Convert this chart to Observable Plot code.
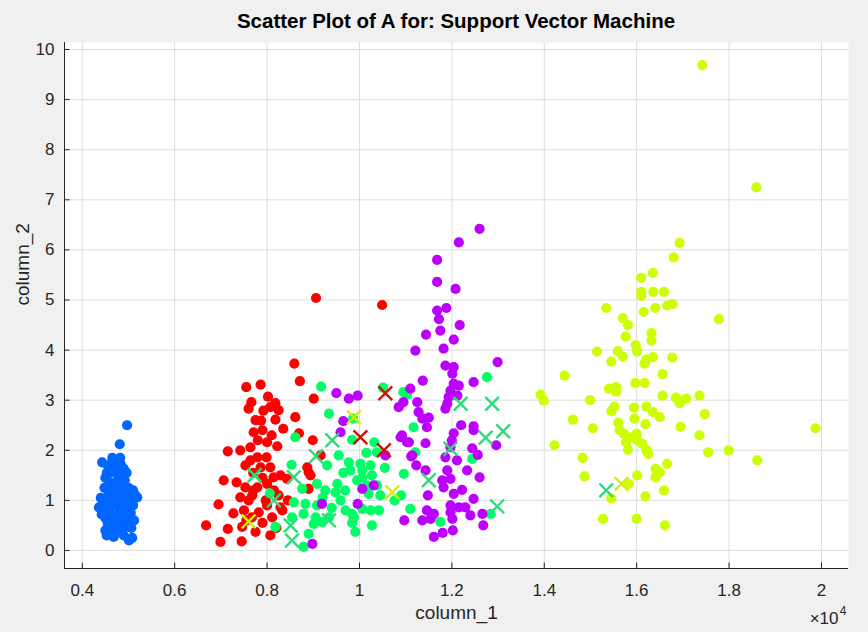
<!DOCTYPE html>
<html><head><meta charset="utf-8">
<script src="https://cdn.jsdelivr.net/npm/d3@7"></script>
<script src="https://cdn.jsdelivr.net/npm/@observablehq/plot@0.6"></script>
<style>
html,body{margin:0;padding:0;background:#f0f0f0;}
body{width:868px;height:632px;overflow:hidden;font-family:"Liberation Sans",Arial,Helvetica,sans-serif;}
#title{height:36px;line-height:42px;text-align:center;padding-left:44px;font-weight:bold;font-size:20.5px;color:#000;white-space:nowrap;}
#chart svg{display:block;}
</style></head><body>
<div id="title">Scatter Plot of A for: Support Vector Machine</div>
<div id="chart"></div>
<script>
const xTicks = [4000,6000,8000,10000,12000,14000,16000,18000,20000];
const xTickLabels = ["0.4","0.6","0.8","1","1.2","1.4","1.6","1.8","2"];
const yTicks = [0,1,2,3,4,5,6,7,8,9,10];
const xLabel = "column_1";
const yLabel = "column_2";

const blue = [[4970,2.50],[4810,2.12],[4430,1.76],[4650,1.85],[4830,1.73],[4900,1.63],[4550,1.70],[4600,1.55],[4720,1.60],[4780,1.45],[4500,1.45],[4620,1.35],[4700,1.30],[4850,1.35],[4920,1.40],[4560,1.20],[4800,1.20],[5000,1.25],[5100,1.20],[5150,1.10],[5190,1.06],[5050,1.10],[4900,1.05],[4700,1.05],[4550,1.00],[4450,0.95],[4360,0.86],[4480,0.80],[4600,0.85],[4750,0.90],[4850,0.95],[5000,0.95],[5100,0.90],[4950,0.80],[4800,0.75],[4650,0.70],[4500,0.65],[4420,0.72],[4550,0.55],[4700,0.55],[4850,0.60],[5000,0.65],[5120,0.60],[4950,0.50],[4800,0.45],[4620,0.42],[4500,0.40],[4680,0.32],[4900,0.30],[5010,0.20],[4680,0.27],[5080,0.25],[4580,1.10],[4740,1.15],[4880,1.15],[4640,0.95],[4980,1.00],[4530,1.55],[4690,1.75],[4870,1.50],[4760,1.00],[4650,0.60],[4770,0.65],[4920,0.70],[5050,0.75],[4580,0.80],[4700,0.40],[4860,0.40],[4530,0.30],[4820,1.85],[4620,1.65],[4960,1.55],[4400,1.05],[4480,1.25],[5060,0.45]];

const red = [[8590,3.73],[7550,3.26],[7860,3.31],[8710,3.38],[8020,3.07],[8180,2.94],[7660,2.96],[7600,2.83],[7920,2.79],[8070,2.86],[7870,2.59],[8180,2.61],[8350,2.43],[8610,2.66],[9010,3.03],[7710,2.36],[8000,2.16],[8220,2.08],[8690,2.34],[8990,2.20],[7150,1.98],[7420,2.00],[7640,2.06],[7790,1.86],[7990,1.86],[7530,1.70],[8070,1.66],[7860,1.66],[7640,1.80],[7060,1.40],[7340,1.36],[8140,1.46],[8290,1.50],[7530,1.26],[7790,1.26],[8000,1.33],[7420,1.06],[7680,1.10],[7970,1.00],[8290,0.86],[6950,0.92],[7270,0.74],[7500,0.80],[7820,0.76],[8110,0.66],[6680,0.50],[7150,0.43],[7460,0.47],[7750,0.37],[8070,0.30],[6990,0.17],[7450,0.18],[7670,0.66],[8870,1.66],[8940,1.50],[9060,5.04],[10490,4.90],[9160,1.90],[8900,1.56],[8430,1.43],[8900,1.23],[8330,0.80],[7800,2.20],[7900,2.40],[7700,1.55],[7900,1.45],[8150,1.20],[8250,1.10],[7600,1.00],[7900,0.55],[8200,0.45],[8450,1.00],[8100,2.30],[7750,2.60],[8250,2.80],[7700,1.20],[8000,0.90],[7550,0.60]];

const yellow = [[17420,9.69],[18590,7.25],[16930,6.14],[16800,5.85],[16350,5.54],[16100,5.44],[16100,5.16],[16360,5.16],[16590,5.16],[16100,5.08],[15340,4.84],[16150,4.76],[16400,4.84],[16660,4.89],[16780,4.92],[17780,4.62],[15700,4.64],[15810,4.50],[15760,4.27],[16320,4.34],[16320,4.19],[15980,4.10],[16010,3.97],[15140,3.97],[15590,3.98],[15700,3.87],[15450,3.77],[16210,3.81],[16350,3.86],[16170,3.73],[16770,3.85],[14440,3.49],[16560,3.52],[15970,3.34],[16170,3.34],[15400,3.23],[15560,3.26],[15560,3.17],[13920,3.11],[13990,2.99],[14990,3.00],[16560,3.09],[16850,3.05],[16930,2.94],[17070,3.03],[17360,3.09],[15520,2.87],[15450,2.78],[15940,2.85],[16210,2.87],[16350,2.76],[16500,2.66],[17470,2.72],[14620,2.61],[15950,2.63],[15600,2.55],[16190,2.52],[15050,2.44],[16950,2.47],[19870,2.44],[15630,2.40],[15720,2.33],[16000,2.33],[15840,2.26],[17360,2.30],[14220,2.10],[15770,2.16],[16010,2.20],[16120,2.13],[15810,2.01],[16210,2.01],[16250,1.93],[17550,1.96],[17990,2.00],[18610,1.80],[14830,1.85],[16660,1.73],[16410,1.63],[16500,1.56],[16010,1.50],[16410,1.46],[14870,1.48],[15830,1.33],[16590,1.20],[16190,1.08],[15450,1.04],[15270,0.63],[16000,0.63],[16610,0.50]];

const green = [[9170,3.27],[9340,2.73],[8610,2.26],[9840,2.21],[9860,2.63],[10510,3.25],[10320,2.16],[10380,1.96],[11030,3.11],[11170,2.46],[11210,1.96],[8530,1.71],[9300,1.70],[9770,1.76],[10020,1.73],[10240,1.70],[9800,1.60],[10060,1.60],[10060,1.46],[10270,1.50],[10960,1.53],[9080,1.33],[9520,1.33],[9690,1.20],[9480,1.16],[9260,1.20],[8760,1.23],[10380,1.30],[10200,1.13],[10450,1.10],[9590,1.00],[8580,0.96],[8830,0.93],[9080,0.90],[9840,0.73],[10060,0.83],[10240,0.80],[10420,0.80],[11100,0.83],[8540,0.66],[8790,0.73],[9050,0.66],[9340,0.66],[9010,0.53],[9190,0.57],[9840,0.55],[10270,0.50],[9910,0.37],[8900,0.33],[8790,0.07],[8060,1.14],[8180,0.47],[9880,0.66],[12760,3.46],[10950,3.16],[11750,0.57],[12440,1.83],[12840,0.73],[10760,1.00],[9650,1.55],[9950,1.40],[10150,1.30],[9400,0.85],[9700,0.80],[10550,1.65],[10150,1.95],[9550,1.90],[9200,1.05],[10900,1.10]];

const purple = [[12600,6.42],[12150,6.15],[11680,5.80],[11680,5.36],[12080,5.22],[11680,4.79],[11880,4.84],[11720,4.62],[12170,4.50],[11440,4.31],[11750,4.39],[12040,4.21],[11210,3.99],[11820,4.03],[12990,3.76],[11860,3.69],[12040,3.66],[12010,3.53],[12470,3.36],[12040,3.33],[12150,3.29],[11370,3.39],[11100,3.23],[11970,3.19],[11930,3.06],[12120,3.09],[10950,2.96],[10850,2.86],[11250,2.96],[11900,2.93],[11860,2.83],[11280,2.76],[11360,2.63],[11500,2.65],[11460,2.46],[12200,2.50],[12470,2.48],[12470,2.40],[12040,2.34],[10920,2.30],[11070,2.16],[11430,2.14],[12000,2.20],[11970,2.06],[12440,2.04],[12560,1.91],[12960,2.10],[11860,1.86],[12110,1.80],[11120,1.88],[11230,1.70],[11430,1.60],[11900,1.60],[12330,1.60],[11790,1.40],[11970,1.43],[11820,1.26],[12040,1.13],[12220,1.21],[12600,1.46],[11480,1.10],[12470,1.03],[11970,0.90],[12150,0.86],[12290,0.86],[11970,0.76],[11460,0.80],[11610,0.73],[12400,0.70],[12660,0.73],[11360,0.60],[11540,0.63],[12010,0.63],[10970,0.60],[12680,0.50],[12020,0.40],[11800,0.35],[11610,0.27],[9500,3.14],[9770,3.03],[9960,3.09],[9650,2.58],[9590,2.36],[10560,1.90],[10060,1.23],[10310,1.30],[9190,0.93],[9960,0.93],[8980,0.13],[10890,2.26],[11030,2.16],[11140,1.90]];

const greenX = [[7730,1.50],[8150,1.00],[8580,1.46],[8510,0.50],[8540,0.20],[9060,1.88],[9410,2.20],[9340,0.60],[12190,2.93],[12870,2.93],[13110,2.38],[12730,2.25],[11500,1.40],[12980,0.88],[11970,2.03],[15340,1.20]];
const redX = [[10020,2.26],[10560,3.14],[10530,2.00]];
const yellowX = [[7600,0.58],[9880,2.66],[10710,1.16],[15670,1.33]];

const xDomain = [3615, 20585];
const yDomain = [-0.36, 10.14];
const axisColor = "#262626";
const gridColor = "#dedede";

const dotOpts = (fill) => ({x: d => d[0], y: d => d[1], r: 5.1, fill, stroke: null});
const xOpts = (stroke) => ({x: d => d[0], y: d => d[1], r: 6.3, symbol: "times", stroke, strokeWidth: 2.4, fill: null});

const chart = Plot.plot({
  width: 868, height: 596,
  marginLeft: 64, marginRight: 20, marginTop: 6, marginBottom: 64,
  style: {background: "transparent", fontFamily: "'Liberation Sans', Arial, Helvetica, sans-serif", color: axisColor, overflow: "visible"},
  x: {domain: xDomain, axis: null},
  y: {domain: yDomain, axis: null},
  marks: [
    Plot.frame({fill: "white", stroke: null}),
    Plot.ruleX(xTicks, {stroke: gridColor, strokeWidth: 1}),
    Plot.ruleY(yTicks, {stroke: gridColor, strokeWidth: 1}),
    Plot.dot(blue, dotOpts("#0066ff")),
    Plot.dot(red, dotOpts("#ff0000")),
    Plot.dot(yellow, dotOpts("#ccff00")),
    Plot.dot(green, dotOpts("#00ff66")),
    Plot.dot(purple, dotOpts("#bb00ff")),
    Plot.dot(greenX, xOpts("#2bdc78")),
    Plot.dot(redX, xOpts("#cc1500")),
    Plot.dot(yellowX, xOpts("#d2f000")),
    Plot.ruleX([xDomain[0]], {stroke: axisColor, strokeWidth: 1}),
    Plot.ruleY([yDomain[0]], {stroke: axisColor, strokeWidth: 1}),
    Plot.ruleX(xTicks, {y1: yDomain[0], y2: yDomain[0] + 0.11, stroke: axisColor}),
    Plot.ruleY(yTicks, {x1: xDomain[0], x2: xDomain[0] + 120, stroke: axisColor}),
    Plot.text(xTicks, {x: d => d, y: yDomain[0], text: (d, i) => xTickLabels[i], dy: 22, fontSize: 17, fill: axisColor}),
    Plot.text(yTicks, {x: xDomain[0], y: d => d, text: d => String(d), dx: -10, textAnchor: "end", fontSize: 17, fill: axisColor}),
    Plot.text([xLabel], {frameAnchor: "bottom", text: d => d, dy: 50, fontSize: 19, fill: axisColor}),
    Plot.text([yLabel], {frameAnchor: "left", text: d => d, dx: -42, rotate: -90, fontSize: 19, fill: axisColor}),
    Plot.text(["×10"], {frameAnchor: "bottom-right", text: d => d, dx: -10, dy: 55, textAnchor: "end", fontSize: 17, fill: axisColor}),
    Plot.text(["4"], {frameAnchor: "bottom-right", text: d => d, dx: -2, dy: 46, textAnchor: "end", fontSize: 12, fill: axisColor})
  ]
});
document.getElementById("chart").appendChild(chart);
</script>
</body></html>
